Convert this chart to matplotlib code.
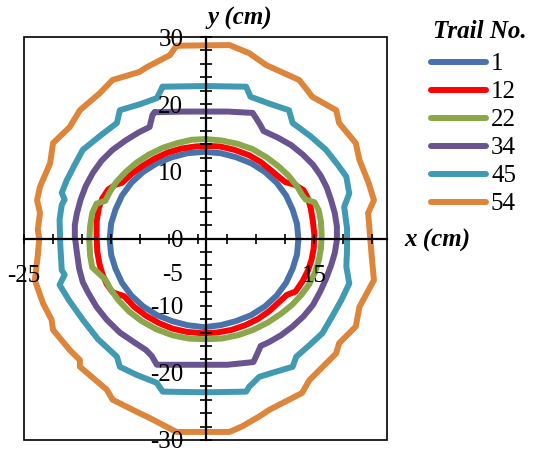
import numpy as np
import matplotlib
matplotlib.use('Agg')
from matplotlib import pyplot as plt
from matplotlib.patches import Rectangle

plt.rcParams['font.family'] = ['Liberation Serif', 'DejaVu Serif']

trail_ids = ['1', '12', '22', '34', '45', '54']
colors = ['#4A72AA', '#FF0000', '#8AA84B', '#6A5490', '#3F9AB2', '#DD853A']

# boundary of each trail (cm)
x_1 = [12.8, 12.6, 12.0, 11.1, 9.8, 8.2, 6.3, 4.2, 2.1, -0.2, -2.5, -4.6, -6.7, -8.6,
       -10.2, -11.5, -12.4, -13.0, -13.2, -13.0, -12.4, -11.5, -10.2, -8.6, -6.7, -4.6,
       -2.5, -0.2, 2.1, 4.2, 6.3, 8.2, 9.8, 11.1, 12.0, 12.6, 12.8]
y_1 = [-0.1, 2.2, 4.3, 6.4, 8.3, 9.9, 11.2, 12.1, 12.7, 12.9, 12.7, 12.1, 11.2, 9.9,
       8.3, 6.4, 4.3, 2.2, -0.1, -2.4, -4.5, -6.6, -8.5, -10.1, -11.4, -12.3,
       -12.9, -13.2, -12.9, -12.3, -11.4, -10.1, -8.5, -6.6, -4.5, -2.4, -0.1]

x_12 = [0, 2.0, 4.0, 6.0, 7.6, 9.2, 10.4, 11.0, 12.3, 13.5, 14.1, 14.5, 14.8, 15.0,
        14.9, 14.6, 14.1, 13.4, 12.4, 11.2, 10.2, 8.8, 7.2, 5.5, 3.6, 1.6, -0.5, -2.6,
        -4.6, -6.4, -8.2, -9.8, -11.2, -12.8, -13.6, -14.2, -14.6, -14.9, -15.0, -15.0,
        -14.7, -14.2, -13.4, -12.4, -11.5, -10.2, -8.7, -7.0, -5.2, -3.3, -1.4, 0]
y_12 = [13.8, 13.7, 13.2, 12.4, 11.4, 10.0, 8.9, 8.4, 8.0, 7.2, 6.0, 4.5, 2.5, 0.5,
        -1.5, -3.2, -4.8, -6.3, -7.9, -8.4, -9.4, -10.8, -12.0, -12.9, -13.6, -14.0, -14.1, -13.9,
        -13.4, -12.6, -11.5, -10.2, -8.6, -8.0, -6.8, -5.3, -3.8, -2.0, 0.3, 2.5,
        4.5, 6.0, 7.3, 8.0, 8.3, 9.6, 10.8, 11.9, 12.8, 13.4, 13.7, 13.8]

x_22 = [0, 2.2, 4.4, 6.5, 8.4, 10.0, 11.4, 12.6, 13.3, 13.8, 15.0, 15.6, 15.9, 16.0,
        15.9, 15.6, 15.1, 14.3, 13.2, 11.9, 10.4, 8.6, 6.6, 4.5, 2.2, 0, -2.3, -4.6,
        -6.8, -8.8, -10.5, -12.0, -13.1, -13.8, -14.8, -15.6, -15.9, -16.0, -15.9, -15.6,
        -15.0, -13.8, -13.2, -12.3, -11.0, -9.5, -7.8, -5.9, -3.9, -1.9, 0]
y_22 = [14.8, 14.6, 14.1, 13.3, 12.1, 10.8, 9.4, 7.8, 6.5, 5.8, 5.4, 4.2, 2.5, 0.5,
        -1.5, -3.3, -5.0, -6.8, -8.4, -9.9, -11.2, -12.5, -13.6, -14.4, -14.9, -15.0, -14.9, -14.4,
        -13.5, -12.3, -10.9, -9.2, -7.5, -6.1, -5.1, -4.3, -2.5, -0.3, 1.8, 3.8,
        5.2, 5.6, 6.9, 8.4, 9.9, 11.3, 12.5, 13.5, 14.2, 14.7, 14.8]

x_34 = [-7.0, -3.0, 3.0, 6.5, 7.5, 8.0, 10.0, 11.8, 13.4, 14.8, 15.9, 16.7, 17.3, 17.8,
        18.1, 18.1, 17.8, 17.3, 16.6, 15.8, 14.8, 13.5, 12.0, 10.4, 8.8, 7.6, 7.2, 6.6,
        3.0, -3.0, -6.7, -7.4, -8.2, -9.9, -11.8, -13.6, -15.0, -16.2, -16.9, -17.4,
        -17.7, -18.0, -18.0, -17.7, -17.2, -16.5, -15.5, -14.3, -12.8, -11.0, -9.2, -7.7,
        -7.3, -7.0]
y_34 = [18.8, 18.9, 18.9, 18.7, 17.0, 16.0, 15.0, 13.9, 12.5, 11.0, 9.3, 7.6, 5.7, 3.8,
        1.8, -0.2, -2.2, -4.0, -6.0, -7.9, -9.9, -11.6, -13.1, -14.4, -15.4, -16.0, -17.0, -18.4,
        -18.8, -18.8, -18.8, -17.5, -16.6, -15.4, -14.0, -12.1, -10.2, -8.0, -6.5, -4.5,
        -2.2, 0.3, 2.0, 3.8, 5.8, 7.8, 9.8, 11.6, 13.2, 14.6, 15.8, 16.6,
        18.4, 18.8]

x_45 = [-5.9, 0, 5.6, 6.2, 9.0, 11.5, 12.0, 14.5, 16.6, 18.2, 19.4, 19.8, 19.1, 19.5,
        19.5, 19.4, 19.8, 18.7, 17.4, 16.1, 14.3, 12.5, 12.0, 9.5, 7.4, 6.0, 5.6, 0,
        -5.9, -6.7, -9.5, -11.8, -12.2, -14.8, -16.9, -18.8, -20.1, -19.4, -19.8, -20.0,
        -20.1, -19.8, -19.4, -19.8, -19.1, -18.0, -16.9, -14.5, -12.2, -11.8, -9.0, -6.7, -5.9]
y_45 = [22.6, 22.7, 22.6, 21.1, 20.0, 19.1, 17.2, 15.2, 13.2, 11.0, 9.2, 6.7, 4.7, 1.5,
        -1.5, -4.2, -6.7, -9.2, -11.7, -14.1, -15.9, -17.6, -19.1, -19.9, -20.6, -22.1, -22.8, -22.9,
        -22.8, -21.5, -20.3, -19.1, -17.6, -15.0, -12.1, -9.2, -6.9, -5.4, -4.7, -1.0,
        2.8, 5.0, 5.8, 6.8, 8.7, 11.0, 13.2, 15.3, 17.2, 19.1, 20.0, 20.9, 22.6]

x_54 = [-4.0, 3.3, 6.0, 8.4, 12.9, 14.0, 14.7, 18.0, 18.4, 20.7, 21.2, 22.5, 23.2, 22.4,
        22.9, 23.2, 21.2, 20.7, 18.4, 18.0, 14.3, 13.3, 8.8, 7.4, 5.0, 3.3, -4.0, -8.1,
        -9.1, -12.8, -13.6, -17.3, -17.3, -18.7, -21.0, -21.2, -22.4, -23.5, -23.1, -22.9,
        -23.1, -22.8, -23.2, -22.8, -21.4, -21.0, -18.7, -17.3, -14.6, -12.8, -9.1, -8.1,
        -4.9, -4.0]
y_54 = [28.7, 28.8, 27.6, 25.8, 23.6, 22.1, 21.1, 19.1, 17.2, 14.2, 11.7, 8.2, 5.7, 3.8,
        -2.7, -6.2, -10.2, -13.1, -15.6, -17.1, -21.1, -23.0, -25.5, -26.5, -28.0, -28.8, -28.8, -26.5,
        -26.0, -24.0, -22.5, -19.1, -18.1, -16.6, -13.6, -12.1, -9.6, -6.2, -2.5, 0.0,
        1.3, 3.8, 5.7, 7.7, 11.2, 14.2, 16.6, 19.1, 21.6, 23.6, 24.8, 25.5,
        27.3, 28.7]

xs = [x_1, x_12, x_22, x_34, x_45, x_54]
ys = [y_1, y_12, y_22, y_34, y_45, y_54]

y_labelled = [30, 20, 10, 0, -5, -10, -20, -30]
x_labelled = [-25, 15]

fig = plt.figure(figsize=(5.34, 4.51), dpi=100)
ax = fig.add_axes([24 / 534, 11 / 451, 363 / 534, 403 / 451])

for tid, c, x, y in zip(trail_ids, colors, xs, ys):
    ax.plot(x, y, color=c, lw=4.3, label=tid, solid_joinstyle='round', solid_capstyle='round')

ax.set_xlim(-25, 25)
ax.set_ylim(-30, 30)

# axes cross at the origin, box drawn around
ax.spines['left'].set_position('zero')
ax.spines['bottom'].set_position('zero')
ax.spines['top'].set_visible(False)
ax.spines['right'].set_visible(False)
for s in ['left', 'bottom']:
    ax.spines[s].set_linewidth(1.6)
ax.add_patch(Rectangle((0, 0), 1, 1, transform=ax.transAxes, fill=False,
                       lw=1.2, edgecolor='black', clip_on=False, zorder=3))
ax.set_axisbelow(False)

ax.xaxis.remove_overlapping_locs = False
ax.yaxis.remove_overlapping_locs = False
ax.set_xticks(x_labelled)
ax.set_xticklabels([str(v) for v in x_labelled])
ax.set_xticks(np.arange(-25, 25, 4), minor=True)
ax.set_yticks(y_labelled)
ax.set_yticklabels([str(v) for v in y_labelled])
ax.set_yticks(np.arange(-30, 31, 2), minor=True)
ax.tick_params(axis='both', which='major', length=0, labelsize=18)
ax.tick_params(axis='x', which='major', pad=19)
ax.tick_params(axis='y', which='major', pad=16)
ax.tick_params(axis='x', which='minor', direction='inout', length=6.5, width=1.2)
ax.tick_params(axis='y', which='minor', direction='inout', length=9, width=1.2)

fig.text(240 / 534, 1 - 18 / 451, 'y (cm)', fontsize=18, fontweight='bold', fontstyle='italic',
         ha='center', va='center')
fig.text(437 / 534, 1 - 240 / 451, 'x (cm)', fontsize=18, fontweight='bold', fontstyle='italic',
         ha='center', va='center')

fig.text(433 / 534, 1 - 31 / 451, 'Trail No.', fontsize=18, fontweight='bold', fontstyle='italic',
         ha='left', va='center')
leg = fig.legend(loc='upper left', bbox_to_anchor=(431 / 534, 1 - 53 / 451), frameon=False,
                 fontsize=18, handlelength=2.2, handletextpad=0.2,
                 labelspacing=0.22, borderaxespad=0, borderpad=0)

fig.savefig('out.png', dpi=100)
